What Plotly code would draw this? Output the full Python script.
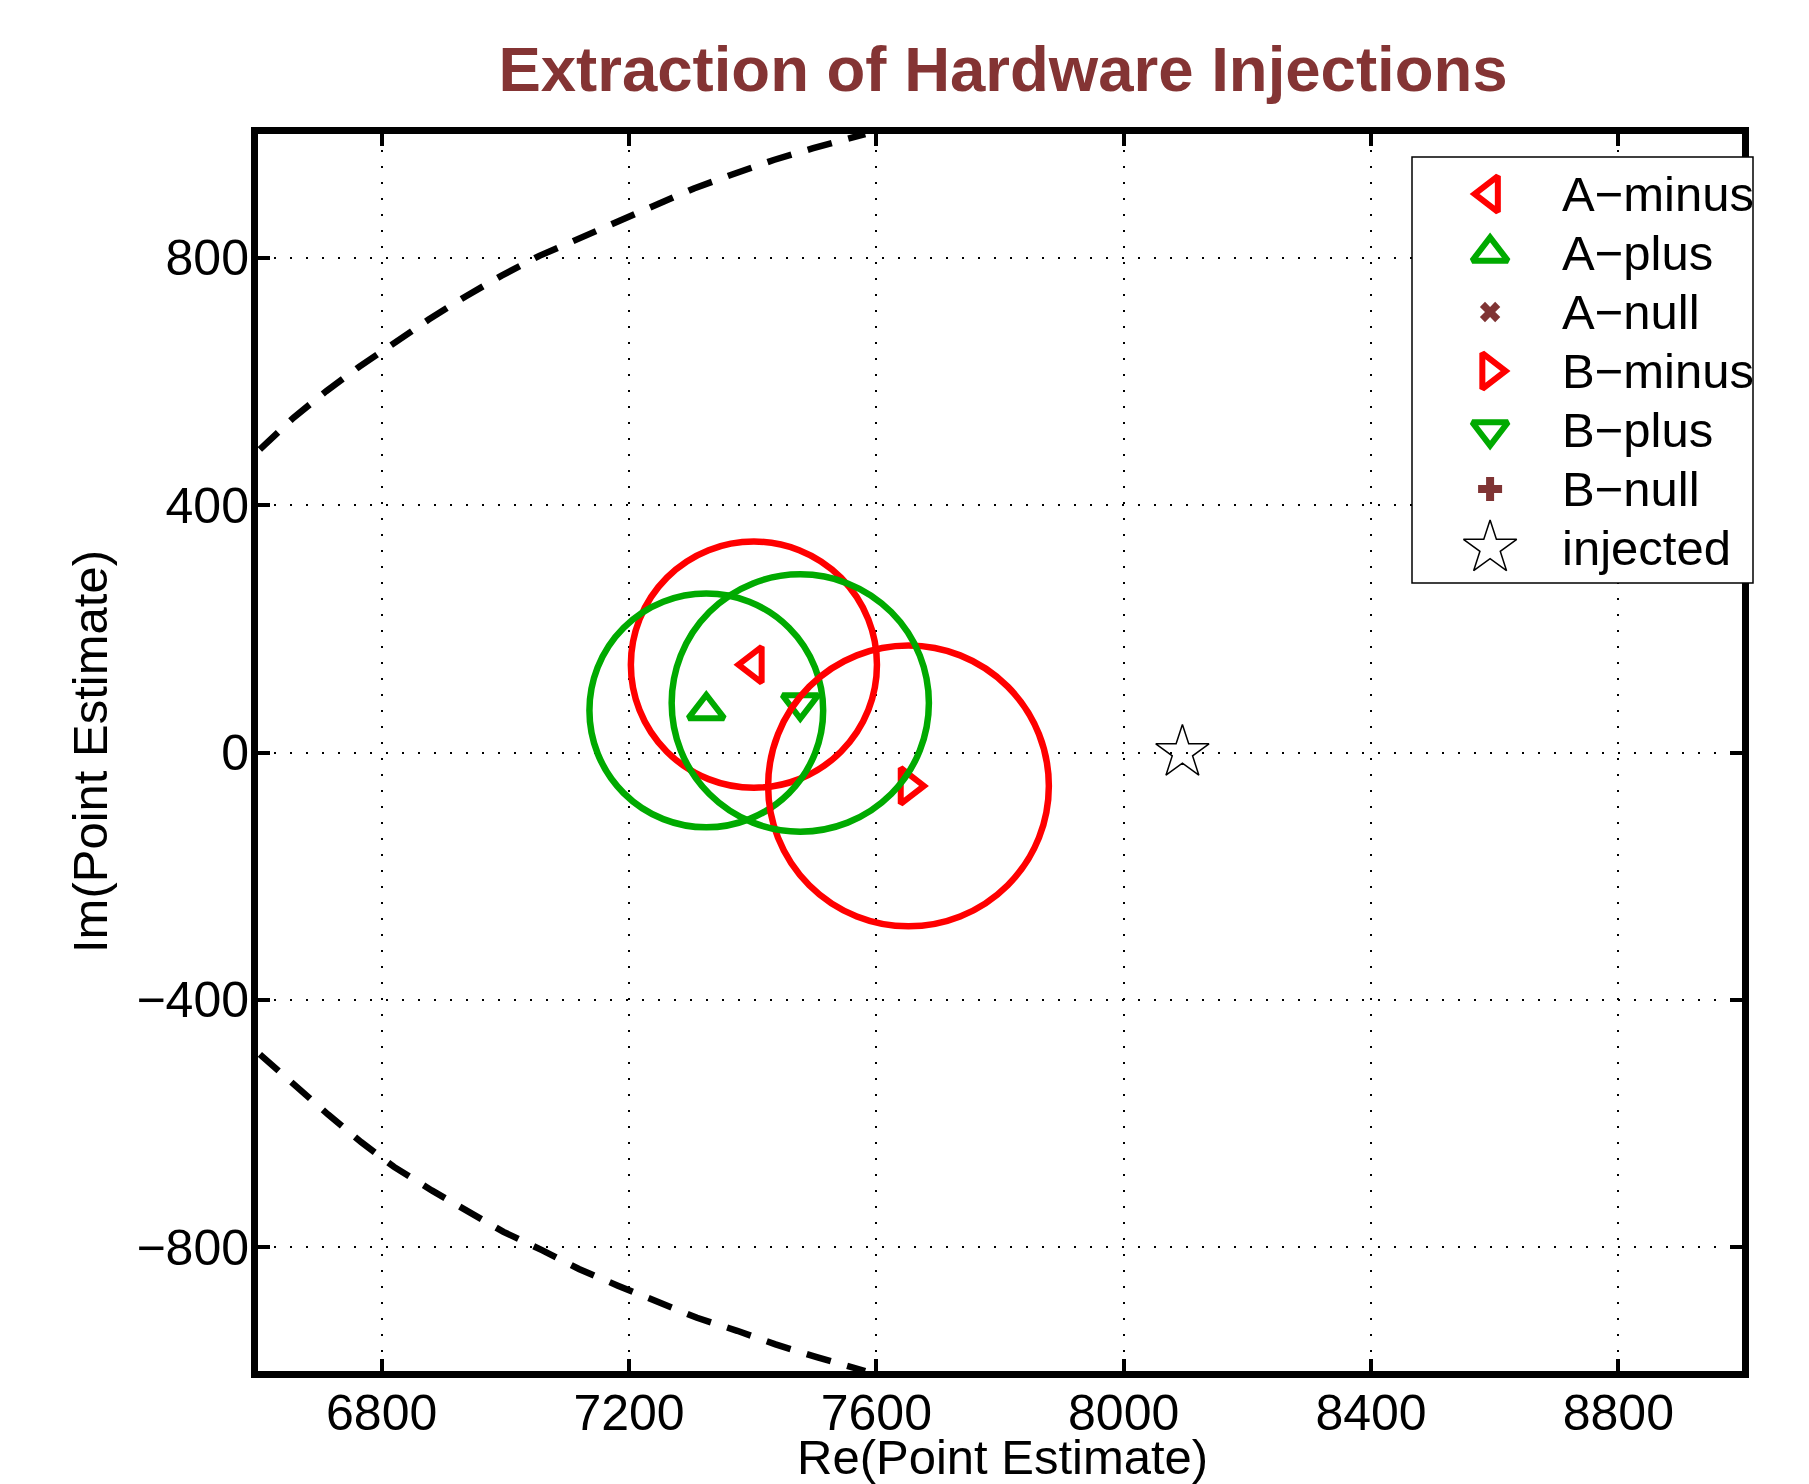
import plotly.graph_objects as go

# ---------------- data ----------------
series_names = ["A\u2212minus", "A\u2212plus", "A\u2212null", "B\u2212minus", "B\u2212plus", "B\u2212null"]
series_re = [[7402], [7325], [], [7652], [7477], []]
series_im = [[142], [68], [], [-54], [80], []]
series_radius = [199, 189, None, 227, 208, None]

injected_name = "injected"
injected_re = [8095]
injected_im = [0]

boundary_upper_re = [6603, 6657, 6710, 6764, 6816, 6876, 6935, 6994, 7055, 7116,
                     7179, 7241, 7305, 7368, 7434, 7498, 7567, 7582]
boundary_upper_im = [490, 541, 584, 624, 659, 700, 737, 771, 803, 830,
                     859, 886, 912, 935, 958, 977, 996, 1000]
boundary_lower_re = [6603, 6658, 6713, 6767, 6820, 6881, 6938, 6997, 7060, 7119,
                     7182, 7244, 7310, 7375, 7437, 7505, 7571, 7582]
boundary_lower_im = [-488, -538, -585, -630, -670, -708, -741, -775, -805, -835,
                     -862, -886, -914, -935, -957, -978, -995, -1000]

x_tickvals = [6800, 7200, 7600, 8000, 8400, 8800]
x_ticktext = ["6800", "7200", "7600", "8000", "8400", "8800"]
y_tickvals = [-800, -400, 0, 400, 800]
y_ticktext = ["\u2212800", "\u2212400", "0", "400", "800"]

# ---------------- styles ----------------
RED = "#FF0000"
GREEN = "#00AA00"
BROWN = "#7F3434"
symbols = ["triangle-left-open", "triangle-up-open", "x", "triangle-right-open",
           "triangle-down-open", "cross"]
colors = [RED, GREEN, BROWN, RED, GREEN, BROWN]
sizes = [31, 31, 18, 31, 31, 20]
line_w = [6, 6, 0, 6, 6, 0]
FONT = "Liberation Sans, Arial, Helvetica, sans-serif"

W, H = 1809, 1484
ML, MR, MT, MB = 258, 40, 134, 113
PW = W - ML - MR          # paper width
PLOT_RIGHT = 1742         # pixel right edge of the main plot
LEG_L, LEG_R, LEG_T, LEG_B = 1412, 1753, 157, 583

def px_x(p):
    return (p - ML) / PW

def px_y(p):
    return 1 - (p - MT) / (H - MT - MB)

fig = go.Figure()

for xs, ys in [(boundary_upper_re, boundary_upper_im), (boundary_lower_re, boundary_lower_im)]:
    fig.add_trace(go.Scatter(x=xs, y=ys, mode="lines", showlegend=False,
                             line=dict(color="black", width=6.5, dash="25px,17px"),
                             hoverinfo="skip"))

for name, xs, ys, sym, col, sz, lw in zip(series_names, series_re, series_im, symbols,
                                          colors, sizes, line_w):
    fig.add_trace(go.Scatter(x=xs, y=ys, mode="markers", name=name, showlegend=False,
                             marker=dict(symbol=sym, size=sz, color=col,
                                         line=dict(color=col, width=lw))))

fig.add_trace(go.Scatter(x=injected_re, y=injected_im, mode="markers", name=injected_name,
                         showlegend=False,
                         marker=dict(symbol="star-open", size=40, color="black",
                                     line=dict(color="black", width=1.5))))

for xs, ys, r, col in zip(series_re, series_im, series_radius, colors):
    if r is None or not xs:
        continue
    fig.add_shape(type="circle", xref="x", yref="y",
                  x0=xs[0] - r, x1=xs[0] + r, y0=ys[0] - r, y1=ys[0] + r,
                  line=dict(color=col, width=6.5))

# ---------------- hand-made legend (own small subplot) ----------------
leg_names = series_names + [injected_name]
leg_symbols = symbols + ["star-open"]
leg_colors = colors + ["black"]
leg_sizes = sizes + [40]
leg_lw = line_w + [1.5]
leg_h = LEG_B - LEG_T
row_y = [37 + 59 * i for i in range(len(leg_names))]
for nm, sym, col, sz, lw, ry in zip(leg_names, leg_symbols, leg_colors, leg_sizes, leg_lw, row_y):
    fig.add_trace(go.Scatter(x=[0.229], y=[ry], xaxis="x2", yaxis="y2", mode="markers",
                             showlegend=False, cliponaxis=False, hoverinfo="skip",
                             marker=dict(symbol=sym, size=sz, color=col,
                                         line=dict(color=col, width=lw))))
    fig.add_annotation(x=0.434, y=ry, xref="x2", yref="y2", text=nm, showarrow=False,
                       xanchor="left", yanchor="middle",
                       font=dict(family=FONT, size=49, color="black"))

# white background of the legend (in the legend subplot, beneath its markers)
fig.add_shape(type="rect", xref="x2", yref="y2", x0=0, x1=1, y0=leg_h, y1=0,
              layer="below", fillcolor="white", line=dict(width=0))
# legend frame
fig.add_shape(type="rect", xref="paper", yref="paper",
              x0=px_x(LEG_L), x1=px_x(LEG_R), y0=px_y(LEG_B), y1=px_y(LEG_T),
              layer="above", line=dict(color="black", width=1.5))

axis_common = dict(
    showline=True, linewidth=7, linecolor="black", mirror="ticks",
    ticks="inside", ticklen=12, tickwidth=4, tickcolor="black",
    showgrid=True, gridcolor="black", gridwidth=2, griddash="2px,14px",
    zeroline=False, tickfont=dict(family=FONT, size=50, color="black"),
    automargin=False,
)

fig.update_layout(
    xaxis=dict(range=[6600, 9000], tickvals=x_tickvals, ticktext=x_ticktext,
               domain=[0, px_x(PLOT_RIGHT)], ticklabelstandoff=-8, **axis_common),
    yaxis=dict(range=[-1000, 1000], tickvals=y_tickvals, ticktext=y_ticktext,
               ticklabelstandoff=-8, **axis_common),
    xaxis2=dict(domain=[px_x(LEG_L), px_x(LEG_R)], range=[0, 1], anchor="y2",
                showgrid=False, zeroline=False, showline=False, showticklabels=False,
                ticks="", fixedrange=True),
    yaxis2=dict(domain=[px_y(LEG_B), px_y(LEG_T)], range=[leg_h, 0], anchor="x2",
                showgrid=False, zeroline=False, showline=False, showticklabels=False,
                ticks="", fixedrange=True),
)

fig.add_annotation(text="Re(Point Estimate)", xref="paper", yref="paper",
                   x=px_x(1002), y=px_y(1457), xanchor="center", yanchor="middle",
                   showarrow=False, font=dict(family=FONT, size=49, color="black"))
fig.add_annotation(text="Im(Point Estimate)", xref="paper", yref="paper",
                   x=px_x(90), y=px_y(752), xanchor="center", yanchor="middle",
                   textangle=-90, showarrow=False,
                   font=dict(family=FONT, size=49, color="black"))

fig.update_layout(
    width=W, height=H,
    margin=dict(l=ML, r=MR, t=MT, b=MB, autoexpand=False),
    paper_bgcolor="white", plot_bgcolor="white",
    font=dict(family=FONT, color="black"),
    title=dict(text="<b>Extraction of Hardware Injections</b>",
               font=dict(family=FONT, size=63.5, color="#843434"),
               x=px_x(1003), xref="paper", xanchor="center",
               y=1 - 69 / H, yref="container", yanchor="middle"),
    showlegend=False,
)

fig.write_html("out.html")
